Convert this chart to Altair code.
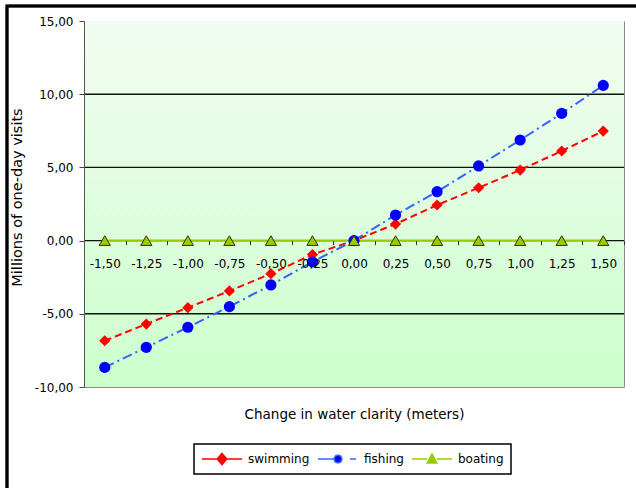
import altair as alt
import pandas as pd

categories = ["-1,50", "-1,25", "-1,00", "-0,75", "-0,50", "-0,25", "0,00",
              "0,25", "0,50", "0,75", "1,00", "1,25", "1,50"]
swimming = [-6.84, -5.70, -4.58, -3.44, -2.26, -0.95, 0.0, 1.13, 2.43, 3.61, 4.82, 6.12, 7.48]
fishing = [-8.66, -7.29, -5.92, -4.51, -3.03, -1.45, 0.0, 1.75, 3.34, 5.10, 6.87, 8.69, 10.60]
boating = [0.0] * 13
series_names = ["swimming", "fishing", "boating"]
y_ticks = [-10, -5, 0, 5, 10, 15]
grid_values = [10, 5, 0, -5]

line_colors = ["#FF0000", "#3366FF", "#99CC00"]
marker_colors = ["#FF0000", "#0000FF", "#99CC00"]
shapes = ["diamond", "circle", "triangle-up"]
dashes = [[7, 4], [10, 4, 2, 4], [1, 0]]

# legend symbols: line + marker glyphs
legend_paths = [
    "M-1,0L-0.25,0M0.25,0L1,0M0,-0.28L0.24,0L0,0.28L-0.24,0Z",
    "M-1,0L-0.2,0M0.6,0L0.9,0M0.2,0L0.142,0.142L0,0.2L-0.142,0.142L-0.2,0"
    "L-0.142,-0.142L0,-0.2L0.142,-0.142Z",
    "M-1,0L-0.24,0M0.24,0L1,0M0,-0.26L0.24,0.2L-0.24,0.2Z",
]

FONT = "DejaVu Sans"

rows = []
for name, vals in zip(series_names, [swimming, fishing, boating]):
    for c, v in zip(categories, vals):
        rows.append({"x": c, "value": v, "series": name})
df = pd.DataFrame(rows)
grid_df = pd.DataFrame({"g": grid_values})

W, H = 540, 366
ymin, ymax = min(y_ticks), max(y_ticks)
zero_offset = -(H * (0 - ymin) / (ymax - ymin))

x_enc = alt.X(
    "x:O", sort=categories,
    scale=alt.Scale(type="band", paddingInner=0, paddingOuter=0, domain=categories),
    bandPosition=0.5,
    axis=alt.Axis(
        title="Change in water clarity (meters)", titleFontWeight="normal",
        titleFont=FONT, titleFontSize=13.5, titleColor="#000",
        titleY=174, titleBaseline="middle", zindex=1,
        offset=zero_offset, domain=False, tickBand="extent", tickSize=4,
        tickColor="#333", labelAngle=0, labelPadding=14, labelFont=FONT,
        labelFontSize=12, labelColor="#000", labelOverlap=False, labelFlush=False,
    ),
)
y_scale = alt.Scale(domain=[ymin, ymax], nice=False, zero=False)
y_enc = alt.Y(
    "value:Q", scale=y_scale,
    axis=alt.Axis(
        values=y_ticks, grid=False, zindex=1,
        labelExpr="(datum.value < 0 ? '-' : '') + replace(format(abs(datum.value), '.2f'), '.', ',')",
        title="Millions of one-day visits", titleFontWeight="normal", titleFont=FONT,
        titleFontSize=14.5, titleColor="#000", titleX=-66.5, titleY=176,
        titleBaseline="middle", titleAngle=-90,
        labelFont=FONT, labelFontSize=12, labelColor="#000", labelPadding=6,
        tickSize=5, tickColor="#444", domainColor="#555",
    ),
)

# hidden under the background; only supplies the legend
legend_layer = alt.Chart(df).mark_point(filled=True, opacity=1).encode(
    x=x_enc, y=y_enc,
    fill=alt.Fill("series:N", sort=series_names,
                  scale=alt.Scale(domain=series_names, range=marker_colors),
                  legend=alt.Legend(
                      title=None, orient="none", legendX=110, legendY=423,
                      direction="horizontal", columns=3, symbolSize=1600,
                      symbolStrokeWidth=1.5, symbolOpacity=1, labelFont=FONT,
                      clipHeight=16, labelFontSize=12, labelColor="#000",
                      labelOffset=5, columnPadding=7, padding=7,
                      strokeColor="#000", fillColor="#FFFFFF",
                  )),
    stroke=alt.Stroke("series:N", sort=series_names,
                      scale=alt.Scale(domain=series_names, range=line_colors)),
    shape=alt.Shape("series:N", sort=series_names,
                    scale=alt.Scale(domain=series_names, range=legend_paths)),
)

bg = alt.Chart(grid_df).mark_rect(
    color=alt.LinearGradient(
        gradient="linear", x1=0, y1=0, x2=0, y2=1,
        stops=[alt.GradientStop(color="#F2FCF2", offset=0),
               alt.GradientStop(color="#CCFFCC", offset=1)],
    )
).encode(y=alt.datum(ymax, scale=y_scale), y2=alt.datum(ymin))

grid = alt.Chart(grid_df).mark_rule(color="#111", strokeWidth=1.4).encode(
    y=alt.Y("g:Q", scale=y_scale)
)

lines = alt.Chart(df).mark_line(strokeWidth=2).encode(
    x=x_enc, y=y_enc,
    color=alt.Color("series:N", sort=series_names,
                    scale=alt.Scale(domain=series_names, range=line_colors), legend=None),
    strokeDash=alt.StrokeDash("series:N", sort=series_names,
                              scale=alt.Scale(domain=series_names, range=dashes), legend=None),
)

points = alt.Chart(df).mark_point(filled=True, size=125, opacity=1, strokeWidth=1).encode(
    x=x_enc, y=y_enc,
    fill=alt.Fill("series:N", sort=series_names,
                  scale=alt.Scale(domain=series_names, range=marker_colors), legend=None),
    shape=alt.Shape("series:N", sort=series_names,
                    scale=alt.Scale(domain=series_names, range=shapes), legend=None),
    stroke=alt.condition("datum.series === 'boating'", alt.value("#333300"), alt.value("transparent")),
)

frame = alt.Chart(grid_df).mark_rect(fill="transparent", stroke="#000", strokeWidth=2.5).encode(
    x=alt.value(-77), x2=alt.value(700), y=alt.value(-15), y2=alt.value(600)
)

chart = alt.layer(legend_layer, bg, grid, lines, points, frame).resolve_scale(
    fill="independent", shape="independent", stroke="independent"
).properties(
    width=W, height=H,
    autosize=alt.AutoSizeParams(type="none"),
    padding={"left": 84, "top": 21, "right": 12, "bottom": 101},
    background="#FFFFFF",
).configure_view(
    stroke="#8C8C8C", strokeWidth=1
).configure_legend(strokeWidth=1.5)

chart.save("out.html", embed_options={"renderer": "svg", "actions": False})
